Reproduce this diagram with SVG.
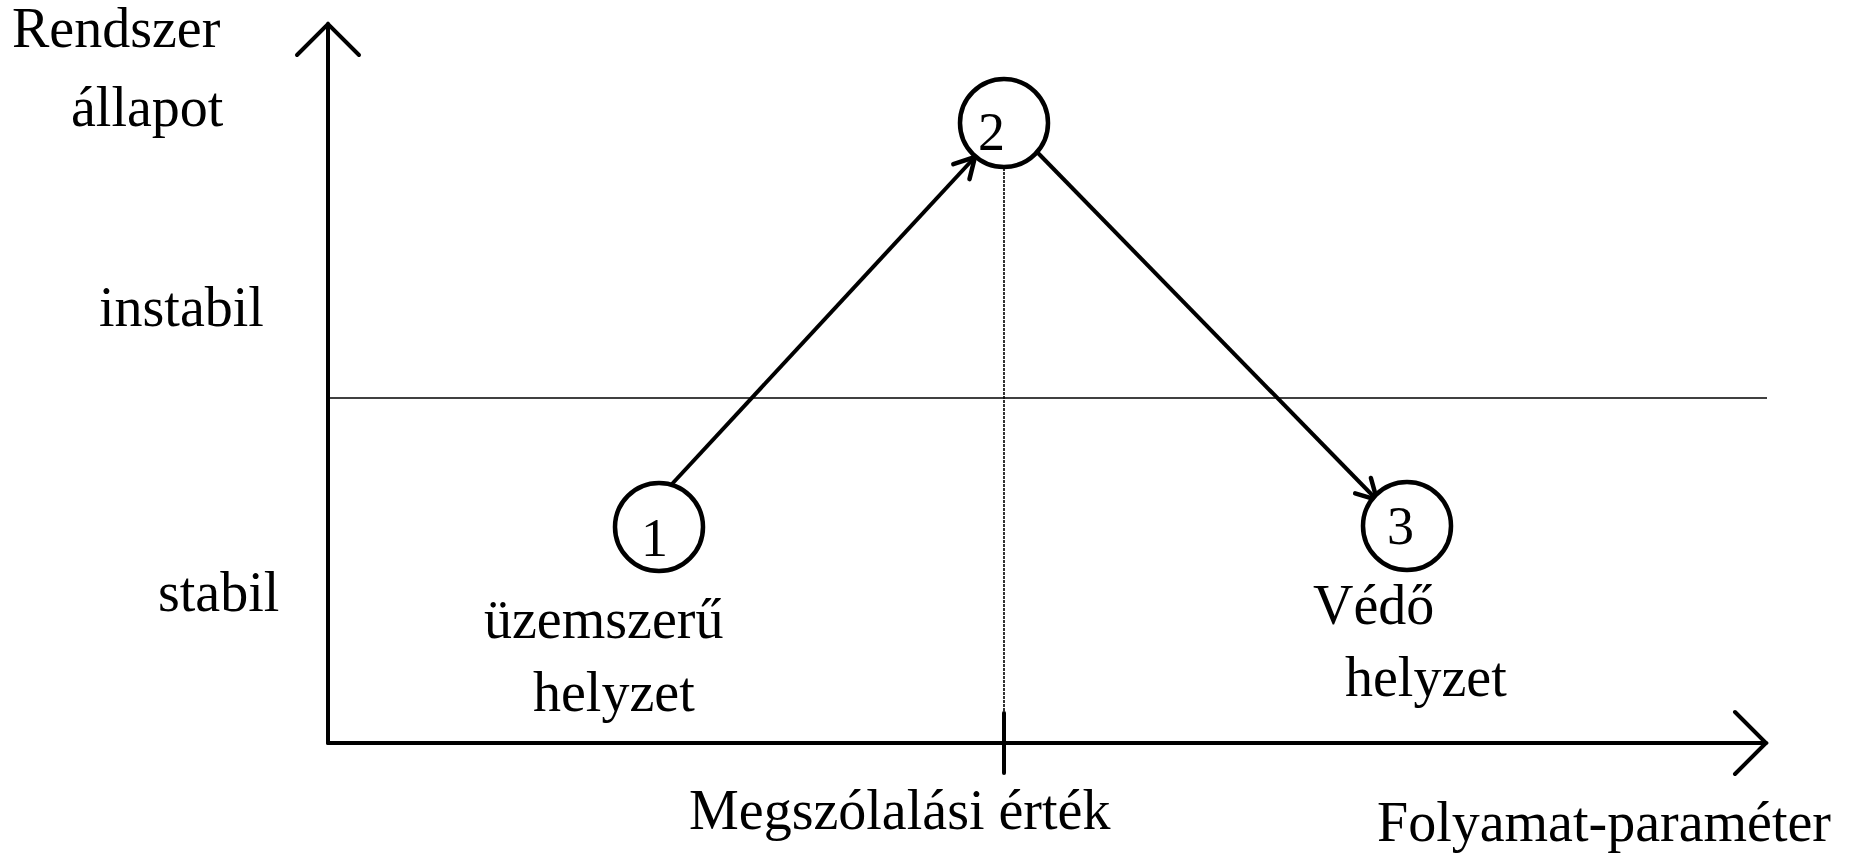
<svg xmlns="http://www.w3.org/2000/svg" width="1860" height="857" viewBox="0 0 1860 857">
<style>
text{font-family:"Liberation Serif","Times New Roman",serif;font-size:56px;fill:#000}
.ax{stroke:#000;stroke-width:4;fill:none;stroke-linecap:round}
.thin{stroke:#000;stroke-width:1.6;fill:none}
.node{stroke:#000;stroke-width:4.5;fill:#fff}
.arr{stroke:#000;stroke-width:4;fill:none}
.dig{font-size:54px}
</style>
<defs>
<marker id="big" markerUnits="userSpaceOnUse" viewBox="-40 -40 50 80" markerWidth="50" markerHeight="80" refX="0" refY="0" orient="auto">
<path d="M-31,-31 L0,0 L-31,31" stroke="#000" stroke-width="4" fill="none" stroke-linecap="round"/>
</marker>
<marker id="sm" markerUnits="userSpaceOnUse" viewBox="-30 -20 40 40" markerWidth="40" markerHeight="40" refX="0" refY="0" orient="auto">
<path d="M-20,-11 L0,0 L-20,11" stroke="#000" stroke-width="4.5" fill="none" stroke-linecap="round"/>
</marker>
</defs>
<g id="axes">
<line class="thin" x1="328" y1="398" x2="1767" y2="398"/>
<line class="thin" x1="1004" y1="168" x2="1004" y2="713" stroke-dasharray="3,1"/>
<line class="ax" x1="328" y1="743" x2="328" y2="24" marker-end="url(#big)"/>
<line class="ax" x1="328" y1="743" x2="1766" y2="743" marker-end="url(#big)"/>
<line class="ax" x1="1004" y1="713" x2="1004" y2="773"/>
</g>
<g id="connectors">
<line class="arr" x1="672" y1="484" x2="975" y2="157" marker-end="url(#sm)"/>
<line class="arr" x1="1038" y1="153" x2="1377" y2="500" marker-end="url(#sm)"/>
</g>
<g id="node1">
<circle class="node" cx="659" cy="527" r="44"/>
<text class="dig" x="641" y="556">1</text>
</g>
<g id="node2">
<circle class="node" cx="1004" cy="123" r="44"/>
<text class="dig" x="978" y="150">2</text>
</g>
<g id="node3">
<circle class="node" cx="1407" cy="526" r="44"/>
<text class="dig" x="1387" y="544">3</text>
</g>
<g id="labels">
<text x="12" y="47">Rendszer</text>
<text x="71" y="126">állapot</text>
<text x="99" y="326">instabil</text>
<text x="158" y="611">stabil</text>
<text x="484" y="638">üzemszerű</text>
<text x="533" y="711">helyzet</text>
<text x="1313" y="624">Védő</text>
<text x="1345" y="696">helyzet</text>
<text x="689" y="829">Megszólalási érték</text>
<text x="1377" y="841">Folyamat-paraméter</text>
</g>
</svg>
